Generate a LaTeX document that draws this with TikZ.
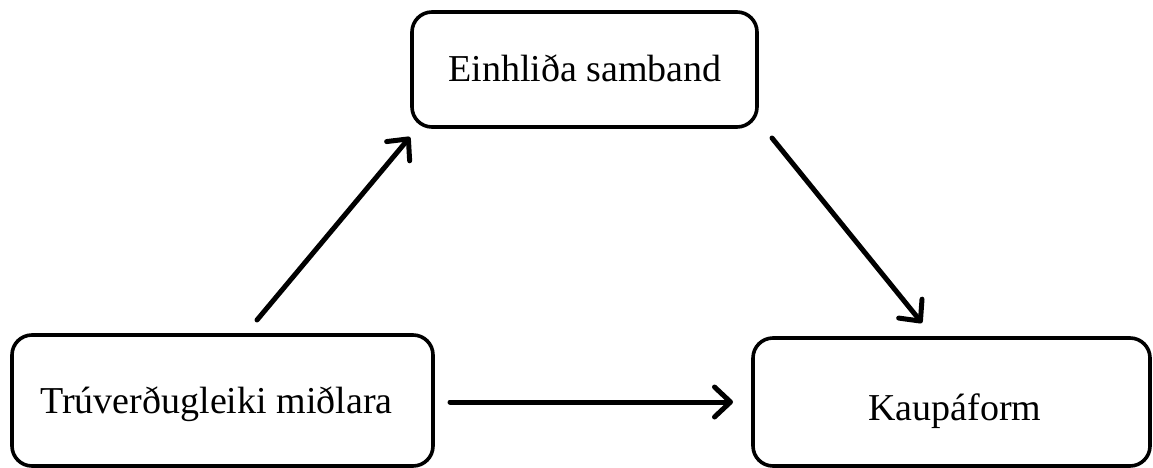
\documentclass[tikz,border=0pt]{standalone}
\usepackage{fontspec}
\setmainfont{Liberation Serif}
\usetikzlibrary{arrows.meta}
\begin{document}
\begin{tikzpicture}[x=1pt,y=-1pt,
  box/.style={draw=black,line width=3.6pt,rounded corners=20pt,inner sep=0pt},
  lbl/.style={anchor=base,inner sep=0pt,font=\fontsize{38}{44}\selectfont},
  conn/.style={line width=5pt,line cap=round,-{Straight Barb[length=16pt,width=30pt,line width=5pt,round]}}]
\useasboundingbox (0,0) rectangle (1153,468);
\node[box,minimum width=345pt,minimum height=115pt] (top) at (584.5,69.5) {};
\node[box,minimum width=421pt,minimum height=131pt] (lb) at (222.5,400.5) {};
\node[box,minimum width=397pt,minimum height=128pt] (rb) at (951.5,402) {};
\node[lbl] (ttop) at (585,82) {Einhliða samband};
\node[lbl] (tlb) at (216.5,413) {Trúverðugleiki miðlara};
\node[lbl] (trb) at (955,420) {Kaupáform};
\coordinate (a1s) at (257,320);
\coordinate (a1e) at (410,137);
\coordinate (a2s) at (772,138);
\coordinate (a2e) at (922,323);
\coordinate (a3s) at (450,402);
\coordinate (a3e) at (733,402);
\draw[conn] (a1s) -- (a1e);
\draw[conn] (a2s) -- (a2e);
\draw[conn] (a3s) -- (a3e);
\end{tikzpicture}
\end{document}
